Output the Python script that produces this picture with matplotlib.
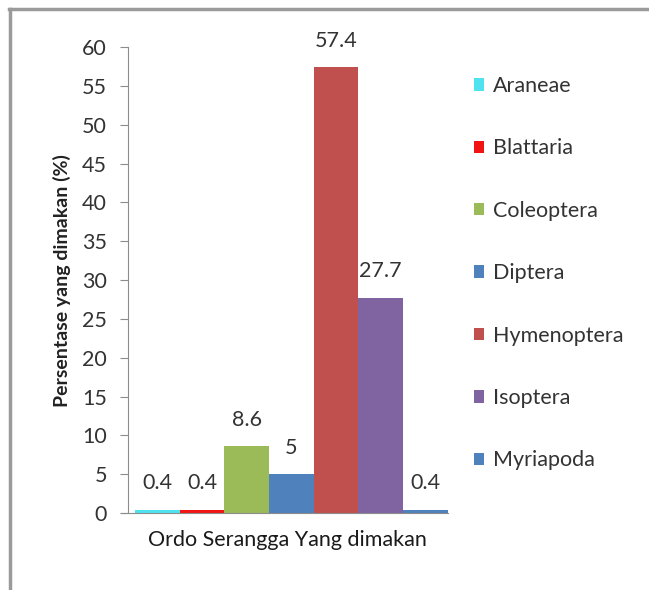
import matplotlib
matplotlib.use("Agg")
import matplotlib.pyplot as plt
from matplotlib.lines import Line2D

categories = ["Araneae", "Blattaria", "Coleoptera", "Diptera", "Hymenoptera", "Isoptera", "Myriapoda"]
values = [0.4, 0.4, 8.6, 5, 57.4, 27.7, 0.4]
value_labels = ["0.4", "0.4", "8.6", "5", "57.4", "27.7", "0.4"]
colors = ["#4FE3F0", "#F01414", "#9BBB59", "#4F81BD", "#C0504D", "#8064A2", "#4F81BD"]
yticks = list(range(0, 61, 5))

plt.rcParams['font.family'] = ['Lato', 'DejaVu Sans']

fig = plt.figure(figsize=(6.49, 5.90), dpi=100)
fig.patch.set_facecolor("white")

# figure frame (top and left edges)
fig.add_artist(Line2D([0.014, 1.0], [0.984, 0.984], color="#9A9A9A", lw=2.5, transform=fig.transFigure))
fig.add_artist(Line2D([0.016, 0.016], [0.0, 0.984], color="#9A9A9A", lw=2.5, transform=fig.transFigure))

ax = fig.add_axes([0.197, 0.1305, 0.493, 0.7895])
handles = []
for i, (cat, v, c, lab) in enumerate(zip(categories, values, colors, value_labels)):
    b = ax.bar(i, v, width=1.0, color=c, label=cat, align="center")
    handles.append(b)
    ax.annotate(lab, (i, v), xytext=(0, 12), textcoords="offset points",
                ha="center", va="bottom", fontsize=15.5, color="#333333", clip_on=False)

ax.set_xlim(-0.66, 6.5)
ax.set_ylim(0, 60)
ax.set_yticks(yticks)
ax.set_yticklabels([str(t) for t in yticks], fontsize=15.5, color="#333333")
ax.set_xticks([])
for s in ["top", "right"]:
    ax.spines[s].set_visible(False)
ax.spines["left"].set_color("#8C8C8C")
ax.spines["bottom"].set_color("#8C8C8C")
ax.spines["bottom"].set_bounds(-0.82, 6.5)
ax.tick_params(axis="y", direction="out", length=6, color="#8C8C8C", pad=9)
ax.set_ylabel("Persentase yang dimakan (%)", fontsize=14, fontweight="bold", color="#222222", labelpad=8)
ax.set_xlabel("Ordo Serangga Yang dimakan", fontsize=15.5, color="#1A1A1A", labelpad=12)

leg = fig.legend(handles=handles, labels=categories, loc="upper left",
                 bbox_to_anchor=(0.70, 0.904), frameon=False, fontsize=15.5,
                 handlelength=0.5, handleheight=0.5, handletextpad=0.4,
                 labelspacing=1.97, labelcolor="#333333")

fig.savefig("out.png", dpi=100, facecolor="white")
